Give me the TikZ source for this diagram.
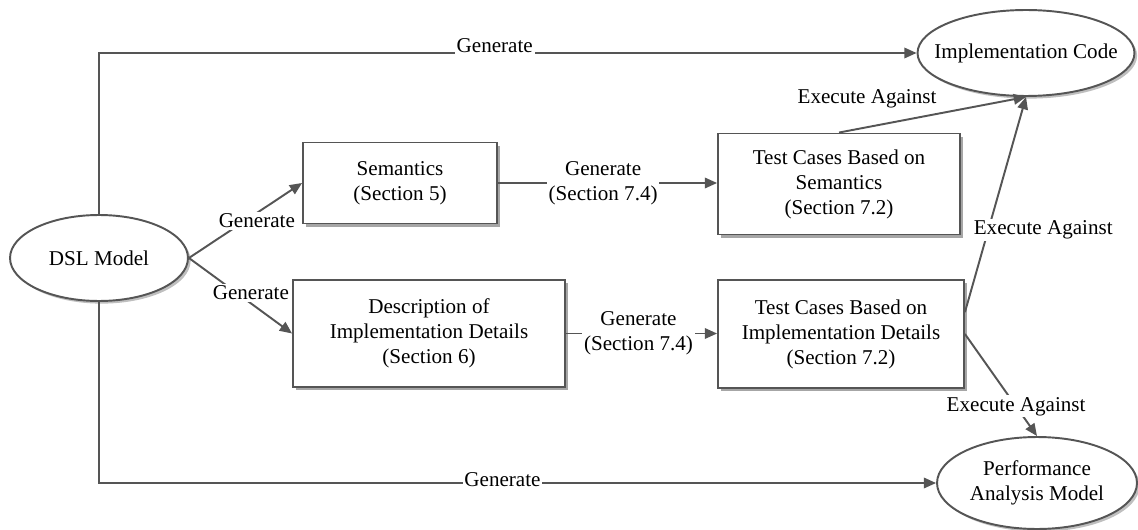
\documentclass[tikz,border=0pt]{standalone}
\usepackage{fontspec}
\setmainfont{Liberation Serif}
\usetikzlibrary{arrows.meta,shapes.geometric,shadows}
\definecolor{edgegray}{RGB}{85,85,85}

\begin{document}
\begin{tikzpicture}[x=0.02cm, y=-0.02cm,
  font=\rmfamily\fontsize{12}{14.2}\selectfont,
  box/.style={draw=edgegray, line width=1.1pt, fill=white, align=center, inner sep=2pt,
    drop shadow={shadow xshift=1.8pt, shadow yshift=-1.8pt, fill=black, opacity=0.35}},
  oval/.style={ellipse, draw=edgegray, line width=1.1pt, fill=white, inner sep=0pt,
    drop shadow={shadow xshift=1.5pt, shadow yshift=-1.5pt, fill=black, opacity=0.25}},
  conn/.style={draw=edgegray, line width=1.1pt, -{Triangle[length=7pt,width=6pt]}},
  lbl/.style={fill=white, inner sep=1pt, align=center}]
  \useasboundingbox (0,0) rectangle (1138,530);

  \node[oval, minimum width=3.56cm, minimum height=1.72cm,
        label={[name=dsl-t]center:DSL Model}] (dsl) at (99,258) {};
  \node[oval, minimum width=4.34cm, minimum height=1.72cm,
        label={[name=impl-t]center:Implementation Code}] (impl) at (1026,53) {};
  \node[oval, minimum width=4cm, minimum height=1.84cm,
        label={[name=perf-t, align=center]center:Performance\\Analysis Model}] (perf) at (1037,483) {};

  \node[box, minimum width=3.88cm, minimum height=1.62cm] (sem) at (400,183) {Semantics\\(Section 5)};
  \node[box, minimum width=5.44cm, minimum height=2.14cm] (desc) at (429,333.5) {Description of\\Implementation Details\\(Section 6)};
  \node[box, minimum width=4.84cm, minimum height=2.02cm] (tcsem) at (839,184) {Test Cases Based on\\Semantics\\(Section 7.2)};
  \node[box, minimum width=4.92cm, minimum height=2.16cm] (tcimpl) at (841,334) {Test Cases Based on\\Implementation Details\\(Section 7.2)};

  \draw[conn] (dsl.north) |- (impl.west) node[lbl, pos=0.742, anchor=base] (gen-top) {Generate};
  \draw[conn] (dsl.south) |- (perf.west) node[lbl, pos=0.741, anchor=base, yshift=-2pt] (gen-bot) {Generate};
  \draw[conn] (dsl.east) -- (sem.west) node[lbl, pos=0.6, yshift=-4.5pt] (gen-sem) {Generate};
  \draw[conn] (dsl.east) -- (desc.west) node[lbl, pos=0.6, yshift=6pt] (gen-desc) {Generate};

  \draw[conn] (sem.east) -- (sem.east -| tcsem.west) node[lbl, pos=0.48] (gen-tcsem) {Generate\\(Section 7.4)};
  \draw[conn] (desc.east) -- (desc.east -| tcimpl.west) node[lbl, pos=0.48] (gen-tcimpl) {Generate\\(Section 7.4)};

  \draw[conn] (tcsem.north) -- (impl.south) node[pos=0.15, above=7pt] (ex-sem) {Execute Against};
  \draw[conn] (tcimpl.10) -- (impl.south) node[lbl, pos=0.39, xshift=31pt, yshift=-1pt] (ex-impl) {Execute Against};
  \draw[conn] (tcimpl.east) -- (perf.north) node[lbl, pos=0.71] (ex-perf) {Execute Against};
\end{tikzpicture}
\end{document}
